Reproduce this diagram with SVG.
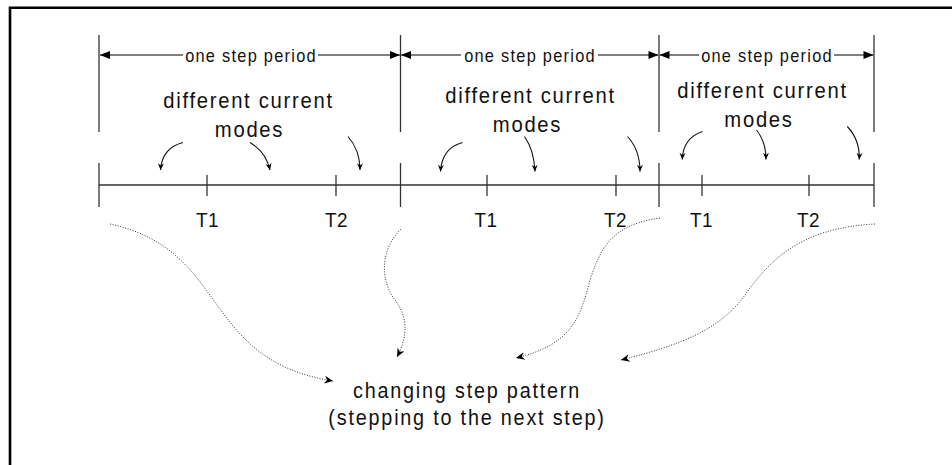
<svg xmlns="http://www.w3.org/2000/svg" width="952" height="465" viewBox="0 0 952 465">
<style>
text{font-family:"Liberation Sans",Arial,sans-serif;fill:#111;text-anchor:middle}
.per{font-size:18.2px;letter-spacing:1.4px}
.mode{font-size:22.5px;letter-spacing:1.9px}
.tl{font-size:21px;letter-spacing:0.6px}
.big{font-size:22px;letter-spacing:2px}
.frame{stroke:#000;stroke-width:2.6;fill:none}
.vl{stroke:#333;stroke-width:1.3;fill:none}
.dim{stroke:#555;stroke-width:1.3;fill:none}
.curv{stroke:#111;stroke-width:1.1;fill:none;marker-end:url(#barb)}
.dot{stroke:#333;stroke-width:1;fill:none;stroke-dasharray:1 1.6;marker-end:url(#barb2)}
</style>
<defs>
<marker id="dimL" markerUnits="userSpaceOnUse" markerWidth="12" markerHeight="10" refX="0" refY="5" orient="auto" overflow="visible">
<path d="M0,5 L10,1 L10,9 z" fill="#000"/>
</marker>
<marker id="dimR" markerUnits="userSpaceOnUse" markerWidth="12" markerHeight="10" refX="10" refY="5" orient="auto" overflow="visible">
<path d="M10,5 L0,1 L0,9 z" fill="#000"/>
</marker>
<marker id="barb" markerUnits="userSpaceOnUse" markerWidth="10" markerHeight="10" refX="0" refY="0" orient="auto" overflow="visible" viewBox="-10 -5 12 10">
<path d="M0,0 L-8,-3.6 L-5.5,0 L-8,3.6 z" fill="#000"/>
</marker>
<marker id="barb2" markerUnits="userSpaceOnUse" markerWidth="12" markerHeight="12" refX="0" refY="0" orient="auto" overflow="visible" viewBox="-12 -6 14 12">
<path d="M0,0 L-10,-4.5 L-7,0 L-10,4.5 z" fill="#000"/>
</marker>
</defs>

<g id="frame">
<path class="frame" d="M10,465 L10,7.8 L952,7.8"/>
</g>

<g id="timeline">
<line class="vl" x1="99" y1="35" x2="99" y2="132"/>
<line class="vl" x1="400.5" y1="35" x2="400.5" y2="132"/>
<line class="vl" x1="659" y1="35" x2="659" y2="132"/>
<line class="vl" x1="874" y1="35" x2="874" y2="132"/>
<line class="vl" x1="99" y1="163" x2="99" y2="207"/>
<line class="vl" x1="400.5" y1="163" x2="400.5" y2="207"/>
<line class="vl" x1="659" y1="163" x2="659" y2="207"/>
<line class="vl" x1="874" y1="163" x2="874" y2="207"/>
<line class="vl" x1="99" y1="185" x2="874" y2="185"/>
<line class="vl" x1="207" y1="175" x2="207" y2="196"/>
<line class="vl" x1="336" y1="175" x2="336" y2="196"/>
<line class="vl" x1="487" y1="175" x2="487" y2="196"/>
<line class="vl" x1="616" y1="175" x2="616" y2="196"/>
<line class="vl" x1="702" y1="175" x2="702" y2="196"/>
<line class="vl" x1="809" y1="175" x2="809" y2="196"/>
<text class="tl" transform="translate(207.5,227) scale(0.9,1)">T1</text>
<text class="tl" transform="translate(336.5,227) scale(0.9,1)">T2</text>
<text class="tl" transform="translate(486,227) scale(0.9,1)">T1</text>
<text class="tl" transform="translate(615.5,227) scale(0.9,1)">T2</text>
<text class="tl" transform="translate(701.5,227) scale(0.9,1)">T1</text>
<text class="tl" transform="translate(808.5,227) scale(0.9,1)">T2</text>
</g>

<g id="period1">
<line class="dim" x1="100" y1="55" x2="183" y2="55" marker-start="url(#dimL)"/>
<line class="dim" x1="318" y1="55" x2="400" y2="55" marker-end="url(#dimR)"/>
<text class="per" transform="translate(251,61.5) scale(0.9,1)">one step period</text>
<text class="mode" transform="translate(248.5,107.5) scale(0.9,1)">different current</text>
<text class="mode" transform="translate(249.5,136.5) scale(0.9,1)">modes</text>
</g>
<g id="period2">
<line class="dim" x1="401" y1="55" x2="461" y2="55" marker-start="url(#dimL)"/>
<line class="dim" x1="598" y1="55" x2="658.5" y2="55" marker-end="url(#dimR)"/>
<text class="per" transform="translate(530,61.5) scale(0.9,1)">one step period</text>
<text class="mode" transform="translate(530.5,102.5) scale(0.9,1)">different current</text>
<text class="mode" transform="translate(527.5,131.5) scale(0.9,1)">modes</text>
</g>
<g id="period3">
<line class="dim" x1="659.5" y1="55" x2="699" y2="55" marker-start="url(#dimL)"/>
<line class="dim" x1="834" y1="55" x2="873.5" y2="55" marker-end="url(#dimR)"/>
<text class="per" transform="translate(767,61.5) scale(0.9,1)">one step period</text>
<text class="mode" transform="translate(762.5,97.5) scale(0.9,1)">different current</text>
<text class="mode" transform="translate(759,126.5) scale(0.9,1)">modes</text>
</g>

<g id="result">
<text class="big" transform="translate(467,397.5) scale(0.9,1)">changing step pattern</text>
<text class="big" transform="translate(467,424.5) scale(0.9,1)">(stepping to the next step)</text>
</g>

<g id="connectors">
<path class="curv" d="M183,142.5 Q162,148 160.5,170"/>
<path class="curv" d="M250,142.5 Q266,152 270,170"/>
<path class="curv" d="M348,136.5 Q360,150 360,170"/>
<path class="curv" d="M462.5,142.5 Q442,148 440.5,171.5"/>
<path class="curv" d="M524.5,136.5 Q534,150 535,171.5"/>
<path class="curv" d="M627.5,136.5 Q640,150 640,171.5"/>
<path class="curv" d="M702.5,131.5 Q683,138 682.3,159.5"/>
<path class="curv" d="M756.5,130 Q766,142 766,159.5"/>
<path class="curv" d="M847.3,126.5 Q860,140 859.3,159.5"/>
<path class="dot" d="M110,224 C230,250 200,360 333,381"/>
<path class="dot" d="M401,229 C380,250 380,280 395,300 C410,320 406,340 397,357"/>
<path class="dot" d="M660,218 C610,225 600,250 590,280 C580,320 570,345 516,358"/>
<path class="dot" d="M875,224 C800,228 770,260 745,295 C720,330 680,345 621,360"/>
</g>
</svg>
